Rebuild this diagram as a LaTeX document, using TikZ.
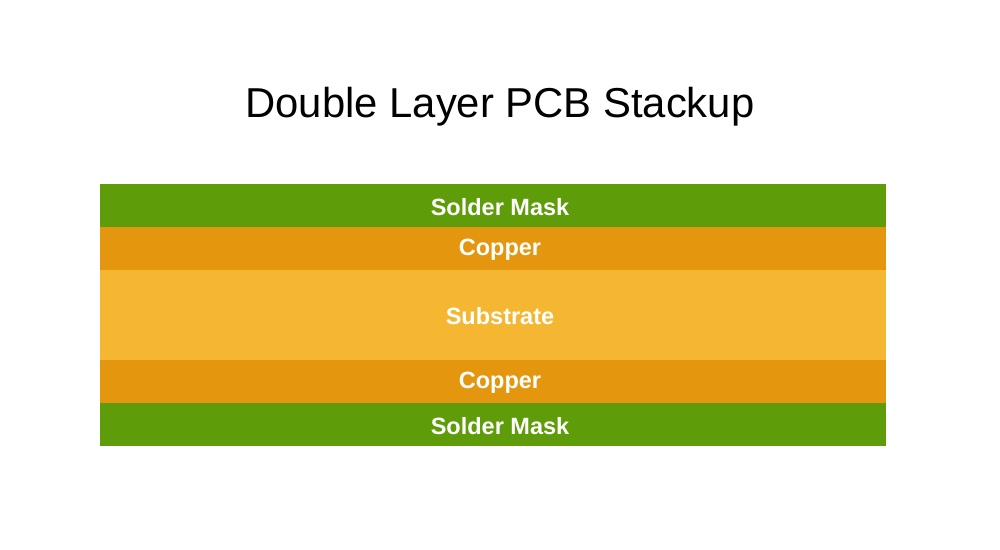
\documentclass[tikz,border=0pt]{standalone}
\usepackage{fontspec}
\setmainfont{Liberation Sans}
\definecolor{mask}{HTML}{5E9C0A}
\definecolor{copper}{HTML}{E4960F}
\definecolor{subst}{HTML}{F5B731}
\tikzset{
  layer/.style={inner sep=0pt, outer sep=0pt, minimum width=786bp, anchor=north west},
  lbl/.style={inner sep=0pt, text=white, font=\fontsize{23.5bp}{28bp}\selectfont\bfseries},
}
\begin{document}
\begin{tikzpicture}[x=1bp,y=1bp]
\useasboundingbox (0,0) rectangle (1000,550);
\fill[white] (0,0) rectangle (1000,550);
\node[font=\fontsize{41.8bp}{50bp}\selectfont] (title) at (500,443.5) {Double Layer PCB Stackup};
\node[layer, fill=mask, minimum height=43bp] (m1) at (100,366) {};
\node[layer, fill=copper, minimum height=43bp] (c1) at (100,323) {};
\node[layer, fill=subst, minimum height=90bp] (s) at (100,280) {};
\node[layer, fill=copper, minimum height=43bp] (c2) at (100,190) {};
\node[layer, fill=mask, minimum height=43bp] (m2) at (100,147) {};
\node[lbl] (tm1) at ([xshift=7bp,yshift=-1.5bp]m1.center) {Solder Mask};
\node[lbl] (tc1) at ([xshift=7bp,yshift=-1.5bp]c1.center) {Copper};
\node[lbl] (ts) at ([xshift=7bp,yshift=-1.5bp]s.center) {Substrate};
\node[lbl] (tc2) at ([xshift=7bp,yshift=-1.5bp]c2.center) {Copper};
\node[lbl] (tm2) at ([xshift=7bp,yshift=-1.5bp]m2.center) {Solder Mask};
\end{tikzpicture}
\end{document}
